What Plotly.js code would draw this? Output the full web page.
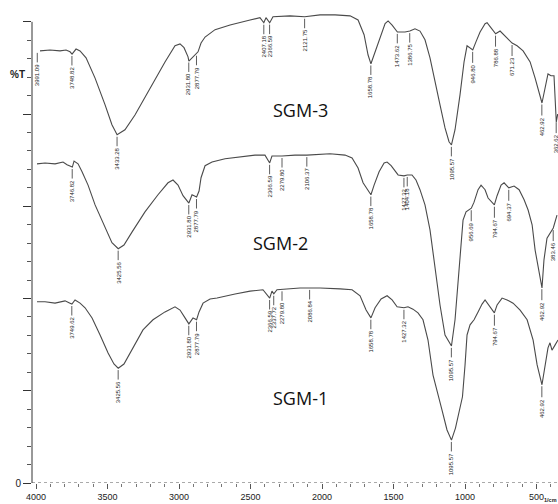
<!DOCTYPE html>
<html>
<head>
<meta charset="utf-8">
<script src="https://cdn.plot.ly/plotly-3.0.1.min.js"></script>
<style>html,body{margin:0;padding:0;background:#fff;}#chart{width:558px;height:504px;}</style>
</head>
<body>
<div id="chart"></div>
<script>
// ---- Data (wavenumber in 1/cm, transmittance in arbitrary %T units, stacked) ----
const sgm3Wn = [3972,3902,3832,3790,3762,3748,3720,3692,3650,3587,3517,3469,3433,3378,3308,3203,3098,3028,2993,2965,2937,2931,2902,2877,2867,2846,2818,2748,2643,2503,2434,2407,2392,2366,2343,2224,2121,2014,1909,1804,1748,1706,1678,1658,1629,1594,1559,1538,1510,1473,1420,1386,1350,1315,1280,1245,1210,1175,1140,1112,1095,1070,1035,1007,986,965,946,923,895,860,846,818,786,755,720,671,636,594,545,510,462,440,420,399,378,362,352];
const sgm3T  = [93.7,93.9,93.7,93.9,93.5,93.0,94.1,93.7,92.2,87.8,82.0,77.7,75.5,76.6,79.8,85.7,91.3,94.8,95.2,94.4,92.4,91.5,92.4,93.1,93.5,95.4,96.7,98.3,99.3,100.4,100.9,99.8,100.9,99.8,101.1,101.3,101.1,101.5,101.5,101.3,100.4,97.2,92.8,90.9,93.5,96.5,99.6,100.2,99.3,97.8,97.8,98.0,98.5,98.0,96.1,92.2,87.4,82.0,77.0,74.0,73.3,76.6,84.2,91.3,94.8,94.4,93.9,95.7,97.8,99.6,99.8,98.7,97.4,98.0,97.0,95.4,94.8,93.7,91.3,87.8,82.4,85.7,88.7,88.3,88.3,78.3,80.0];

const sgm2Wn = [3993,3937,3867,3811,3783,3746,3734,3706,3678,3636,3587,3517,3469,3425,3385,3329,3238,3147,3077,3042,3007,2972,2931,2909,2877,2860,2846,2818,2769,2678,2573,2469,2399,2366,2350,2280,2189,2106,1944,1839,1790,1748,1713,1658,1636,1601,1566,1545,1517,1489,1468,1427,1404,1371,1343,1315,1280,1245,1210,1175,1140,1095,1070,1049,1028,1014,993,956,937,909,888,860,839,795,776,748,727,694,657,622,587,559,531,510,462,448,427,383,357];
const sgm2T  = [69.2,69.4,69.2,69.6,69.0,68.5,69.8,69.2,67.5,64.6,60.3,55.3,52.1,50.8,51.6,54.4,58.8,62.5,65.1,65.7,64.6,62.3,60.7,62.5,62.0,63.3,66.2,68.8,69.6,70.3,70.7,71.1,71.1,69.4,70.9,70.9,71.1,71.1,71.4,71.1,70.5,68.3,65.1,62.5,64.6,67.5,69.4,69.6,68.8,67.5,66.8,66.6,66.8,66.8,65.7,63.6,60.3,54.9,46.2,38.6,32.1,29.7,35.4,42.9,51.6,57.0,58.8,59.6,60.9,63.6,64.6,63.6,61.8,60.3,62.3,64.6,65.1,64.0,64.4,63.6,61.4,59.2,56.0,50.5,42.3,48.4,53.1,55.3,58.1];

const sgm1Wn = [3993,3937,3867,3797,3762,3749,3727,3692,3657,3608,3552,3496,3455,3425,3385,3329,3252,3182,3098,3028,2993,2958,2931,2902,2877,2860,2832,2783,2734,2608,2503,2413,2366,2350,2337,2315,2245,2154,2086,2014,1874,1790,1734,1692,1658,1629,1587,1545,1510,1475,1427,1399,1364,1329,1294,1259,1224,1196,1161,1126,1095,1067,1039,1018,1000,986,965,937,909,881,860,832,795,776,741,706,664,615,566,524,496,462,441,420,406,392,371,350];
const sgm1T  = [39.3,39.3,39.0,39.5,39.0,38.8,39.7,39.0,38.0,35.8,32.1,28.2,25.8,24.9,25.8,28.8,33.2,35.4,37.1,38.2,37.5,35.8,34.5,35.8,35.4,37.1,39.0,39.9,40.1,41.0,41.6,41.9,40.1,41.6,41.0,41.9,42.1,42.3,42.3,42.3,42.1,41.9,40.6,37.5,35.8,38.0,39.9,40.6,39.7,38.2,38.0,38.2,37.7,36.9,35.4,31.0,23.4,20.2,15.8,11.5,9.3,11.9,15.8,18.7,25.6,32.1,34.3,35.4,37.1,38.8,39.7,38.6,36.9,38.6,40.1,39.7,39.0,37.5,35.4,31.0,25.6,21.3,25.6,29.3,30.4,28.8,29.9,31.0];

// peak labels
const sgm3Peaks = [3991.09,3748.82,3433.28,2931.80,2877.79,2407.18,2366.59,2121.75,1658.78,1473.62,1386.75,1095.57,946.80,786.88,671.23,462.92,362.62];
const sgm2Peaks = [3746.82,3425.56,2931.80,2877.79,2366.59,2279.80,2106.37,1658.78,1427.32,1404.18,1095.57,956.69,794.67,694.37,462.92,383.46];
const sgm1Peaks = [3749.62,3425.56,2931.80,2877.79,2366.59,2337.72,2279.80,2086.84,1658.78,1427.32,1095.57,794.67,462.92];

const seriesNames = ['SGM-1','SGM-2','SGM-3'];
const nameWn = [2154, 2287, 2154];
const nameT  = [18.4, 52.1, 80.9];

const xTickVals = [4000,3500,3000,2500,2000,1500,1000,500];
const xTickText = ['4000','3500','3000','2500','2000','1500','1000','500'];
const yTickVals = [0,20,40,60,80,100];
const yTickText = ['0','','','','',''];

// ---- Build ----
function interp(wn, T, x){
  for(let i=0;i<wn.length-1;i++){
    const a=wn[i], b=wn[i+1];
    if((x<=a && x>=b)){
      const t=(a===b)?0:(a-x)/(a-b);
      return T[i]+(T[i+1]-T[i])*t;
    }
  }
  return x>wn[0]?T[0]:T[T.length-1];
}
const lineStyle = {color:'#4a4a4a', width:1.1};
const series = [[sgm1Wn,sgm1T,sgm1Peaks],[sgm2Wn,sgm2T,sgm2Peaks],[sgm3Wn,sgm3T,sgm3Peaks]];
const traces = series.map((s,i)=>({x:s[0], y:s[1], type:'scatter', mode:'lines', line:lineStyle, name:seriesNames[i], hoverinfo:'x+y'}));

const annotations = [];
series.forEach(s=>{
  s[2].forEach(p=>{
    annotations.push({
      x:p, y:interp(s[0],s[1],p), xref:'x', yref:'y',
      text:p.toFixed(2), textangle:-90,
      showarrow:true, arrowhead:0, arrowwidth:0.8, arrowcolor:'#333',
      ax:0, ay:24, standoff:2,
      font:{family:'Liberation Sans, Arial, sans-serif', size:6, color:'#222'}
    });
  });
});
seriesNames.forEach((n,i)=>{
  annotations.push({x:nameWn[i], y:nameT[i], xref:'x', yref:'y', text:n, showarrow:false,
    font:{family:'Open Sans, sans-serif', size:18, color:'#111'}});
});
annotations.push({x:-0.045, y:0.876, xref:'paper', yref:'paper', text:'<b>%T</b>', showarrow:false, xanchor:'left',
  font:{family:'Liberation Sans, Arial, sans-serif', size:10, color:'#222'}});
annotations.push({x:1, y:-0.0442, xref:'paper', yref:'paper', text:'<b>1/cm</b>', showarrow:false, xanchor:'right', yanchor:'bottom',
  borderpad:0, font:{family:'Liberation Sans, Arial, sans-serif', size:5.5, color:'#222'}});

const shapes = [
  {type:'line', xref:'paper', yref:'y', x0:0, x1:0, y0:0, y1:100, line:{color:'#333', width:1}},
  {type:'line', xref:'paper', yref:'y', x0:0, x1:1, y0:0, y1:0, line:{color:'#555', width:1, dash:'dot'}}
];

const layout = {
  width:558, height:504,
  margin:{l:32, r:0, t:8, b:21},
  paper_bgcolor:'#fff', plot_bgcolor:'#fff',
  showlegend:false,
  xaxis:{range:[4028,350], showgrid:false, zeroline:false, showline:false, automargin:false,
    tickmode:'array', tickvals:xTickVals, ticktext:xTickText, ticks:'outside', ticklen:5, tickcolor:'#555', tickwidth:1,
    tickfont:{family:'Liberation Sans, Arial, sans-serif', size:9, color:'#222'},
    minor:{tickmode:'linear', tick0:0, dtick:100, ticks:'outside', ticklen:3, tickcolor:'#777', showgrid:false}},
  yaxis:{range:[0,103], showgrid:false, zeroline:false, showline:false, automargin:false,
    tickmode:'array', tickvals:yTickVals, ticktext:yTickText, ticks:'outside', ticklen:8, tickcolor:'#333', tickwidth:1,
    tickfont:{family:'Liberation Sans, Arial, sans-serif', size:10, color:'#222'},
    minor:{tickmode:'linear', tick0:0, dtick:4, ticks:'outside', ticklen:4, tickcolor:'#555', showgrid:false}},
  annotations:annotations, shapes:shapes
};
Plotly.newPlot('chart', traces, layout, {displayModeBar:false, staticPlot:true});
</script>
</body>
</html>
